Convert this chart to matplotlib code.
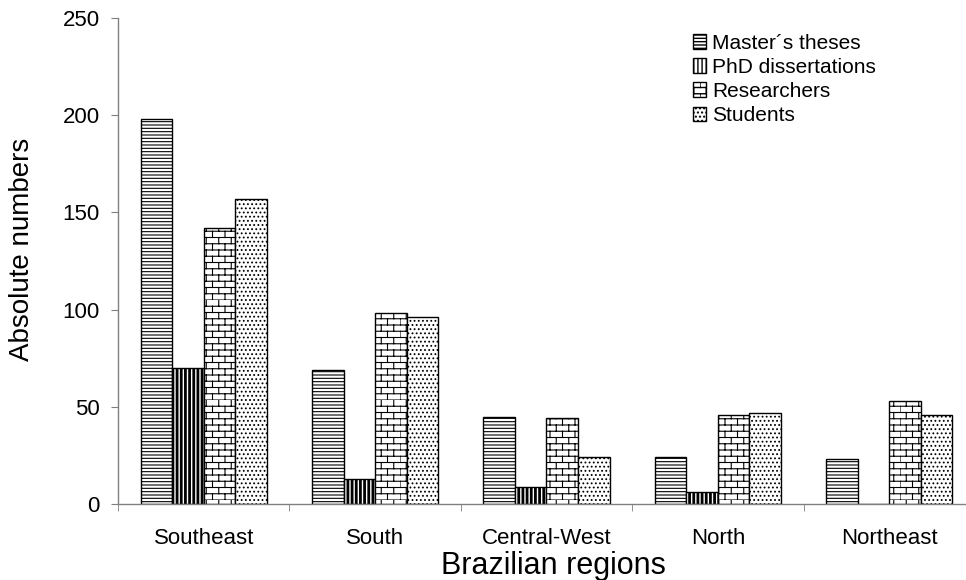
import warnings
import numpy as np
import matplotlib

matplotlib.use('Agg')

import matplotlib.pyplot as plt
from matplotlib import hatch as mhatch
from matplotlib.path import Path

warnings.filterwarnings('ignore')

regions = ['Southeast', 'South', 'Central-West', 'North', 'Northeast']
series = ['Master\u00b4s theses', 'PhD dissertations', 'Researchers', 'Students']
masters = [198, 69, 45, 24, 23]
phd = [70, 13, 9, 6, 0]
researchers = [142, 98, 44, 46, 53]
students = [157, 96, 24, 47, 46]


class BrickHatch(mhatch.HatchPatternBase):
    """Brick wall hatch, selected with the 'b' character."""

    def __init__(self, hatch, density):
        self.num_rows = int(hatch.count('b') * density * 8 / 6)
        self.per_row = max(self.num_rows // 2, 1)
        self.num_vertices = self.num_rows * (2 + 2 * self.per_row)

    def set_vertices_and_codes(self, vertices, codes):
        n = self.num_rows
        k = self.per_row
        i = 0
        for r in range(n):
            y0 = r / n
            y1 = (r + 1) / n
            vertices[i] = (0, y0)
            vertices[i + 1] = (1, y0)
            codes[i] = Path.MOVETO
            codes[i + 1] = Path.LINETO
            i += 2
            shift = 0.5 / k if r % 2 else 0.0
            for j in range(k):
                x = j / k + shift
                vertices[i] = (x, y0)
                vertices[i + 1] = (x, y1)
                codes[i] = Path.MOVETO
                codes[i + 1] = Path.LINETO
                i += 2


mhatch._hatch_types.append(BrickHatch)

plt.rcParams['font.family'] = ['Liberation Sans', 'DejaVu Sans']

fig = plt.figure(figsize=(9.66, 5.8), dpi=100)
ax = fig.add_axes([0.1222, 0.131, 0.887, 0.838])

x = np.arange(len(regions))
w = 0.184
styles = [('-----', 0.8), ('||||', 2.0), ('bb', 0.8), ('....', 0.8)]
values = [masters, phd, researchers, students]

for k, (vals, name, (hatch, hlw)) in enumerate(zip(values, series, styles)):
    pos = x + (k - 1.5) * w
    bars = ax.bar(pos, vals, w, color='white', edgecolor='black',
                  linewidth=1.0, hatch=hatch, label=name)
    for b in bars:
        if hasattr(b, 'set_hatch_linewidth'):
            b.set_hatch_linewidth(hlw)

ax.set_xlim(-0.5, len(regions) - 0.5)
ax.set_ylim(0, 250)
ax.set_yticks(np.arange(0, 251, 50))
ax.set_xticks(x)
ax.set_xticklabels(regions)
ax.set_xticks(np.arange(-0.5, len(regions)), minor=True)
ax.tick_params(axis='x', which='major', length=0, pad=17, labelsize=16)
ax.tick_params(axis='x', which='minor', length=5, color='#808080')
ax.tick_params(axis='y', length=5, color='#808080', labelsize=16, pad=8)

for side in ['top', 'right']:
    ax.spines[side].set_visible(False)
for side in ['left', 'bottom']:
    ax.spines[side].set_color('#808080')
    ax.spines[side].set_linewidth(1.0)

ax.set_xlabel('Brazilian regions', fontsize=22)
ax.xaxis.set_label_coords(0.508, -0.097)
ax.set_ylabel('Absolute numbers', fontsize=20)
ax.yaxis.set_label_coords(-0.097, 0.523)

ax.legend(loc='upper left', bbox_to_anchor=(0.717, 0.942),
          bbox_transform=fig.transFigure, frameon=False, fontsize=15,
          handlelength=0.65, handleheight=0.7, handletextpad=0.3,
          labelspacing=0.25, borderpad=0, borderaxespad=0)

fig.savefig('out.png', dpi=100)
